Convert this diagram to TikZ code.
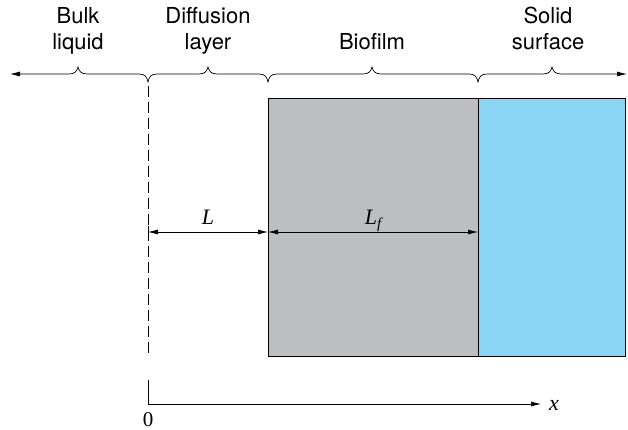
\documentclass[tikz,border=0pt]{standalone}
\usepackage{fontspec}
\usetikzlibrary{arrows.meta}
\newfontfamily\sansf{TeX Gyre Heros}
\newfontfamily\serf{Liberation Serif}
\definecolor{biogray}{HTML}{BCBEC0}
\definecolor{solidblue}{HTML}{8AD5F4}
\begin{document}
\begin{tikzpicture}[x=1pt,y=-1pt,
  lbl/.style={font=\sansf\fontsize{22}{26}\selectfont, align=center, inner sep=0pt, anchor=base},
  mth/.style={font=\serf\itshape\fontsize{22}{24}\selectfont, inner sep=0pt},
  box/.style={draw=black, line width=0.9pt, anchor=north west, inner sep=0pt},
  ln/.style={line width=0.7pt},
  arr/.style={ln, -{Latex[length=10pt,width=5pt]}},
  darr/.style={ln, {Latex[length=10pt,width=5pt]}-{Latex[length=10pt,width=5pt]}}]
\useasboundingbox (0,0) rectangle (628,430);
% rectangles
\node[box, fill=biogray, minimum width=210pt, minimum height=258pt] (bio) at (268,98) {};
\node[box, fill=solidblue, minimum width=147pt, minimum height=258pt] (sol) at (478,98) {};
% top labels
\node[lbl] (bulk) at (78,50) {Bulk\\liquid};
\node[lbl] (diff) at (208,50) {Diffusion\\layer};
\node[lbl] (biof) at (372,50) {Biofilm};
\node[lbl] (solid) at (548,50) {Solid\\surface};
% top brace line
\coordinate (lt) at (10,74);
\coordinate (rt) at (627,74);
\def\upc#1{-- (#1-9,74) .. controls (#1-3,74) and (#1-1,71) .. (#1,67) .. controls (#1+1,71) and (#1+3,74) .. (#1+9,74)}
\def\dnc#1{-- (#1-9,74) .. controls (#1-3,74) and (#1-1,77) .. (#1,82) .. controls (#1+1,77) and (#1+3,74) .. (#1+9,74)}
\draw[ln, {Latex[length=10pt,width=5pt]}-{Latex[length=10pt,width=5pt]}]
  (lt) \upc{78} \dnc{148} \upc{208} \dnc{268} \upc{372} \dnc{478} \upc{552} -- (rt);
% dashed line
\coordinate (d0) at (148,86);
\coordinate (d1) at (148,357);
\draw[ln, dash pattern=on 11pt off 5pt] (d0) -- (d1);
% dimension arrows
\coordinate (a0) at (148,232);
\coordinate (a1) at (268,232);
\coordinate (a2) at (478,232);
\draw[darr] (a0) -- (a1);
\draw[darr] (a1) -- (a2);
\draw[ln] (148,226) -- (148,238);
\node[mth, anchor=base] (lL) at (208,224) {L};
\node[mth, anchor=base] (lLf) at (373,224) {L\raisebox{-5pt}{\fontsize{15}{15}\selectfont f}};
% axis
\coordinate (o) at (148,404);
\coordinate (oy) at (148,380);
\coordinate (ox) at (541,404);
\draw[ln] (oy) -- (o);
\draw[arr] (o) -- (ox);
\node[mth, anchor=base west] (xl) at (549,410) {x};
\node[mth, font=\serf\fontsize{21}{22}\selectfont, anchor=base] (zero) at (148,426) {0};
\end{tikzpicture}
\end{document}
